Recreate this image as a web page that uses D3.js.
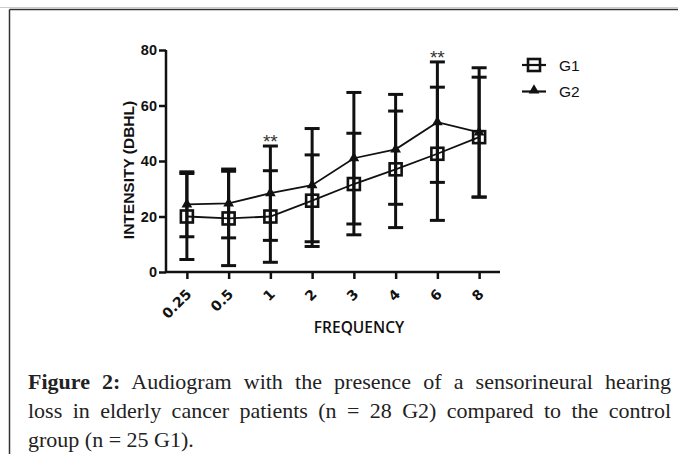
<!DOCTYPE html>
<html><head><meta charset="utf-8">
<script src="https://cdn.jsdelivr.net/npm/d3@7"></script>
<style>html,body{margin:0;padding:0;background:#fff;}svg{display:block;}</style>
</head><body>
<svg id="chart" width="678" height="454"></svg>
<script>
const frequencies = ["0.25","0.5","1","2","3","4","6","8"];
const g1Mean = [20, 19.3, 20, 25.7, 31.7, 37, 42.6, 48.6];
const g1SD   = [15.5, 17, 16.5, 16.5, 18.3, 21, 24, 21.6];
const g2Mean = [24.4, 24.7, 28.4, 31.3, 41, 44.2, 54, 50.3];
const g2SD   = [11.7, 12.4, 17, 20.4, 23.7, 19.8, 21.7, 23.3];
const significance = ["", "", "**", "", "", "", "**", ""];
const yTicks = [0, 20, 40, 60, 80];
const seriesNames = ["G1", "G2"];
const captionLines = [
  ["Figure 2:", " Audiogram with the presence of a sensorineural hearing"],
  ["", "loss in elderly cancer patients (n = 28 G2) compared to the control"],
  ["", "group (n = 25 G1)."]
];

const svg = d3.select("#chart");
const ink = "#111";

// frame
svg.append("line").attr("x1",0).attr("x2",678).attr("y1",7.5).attr("y2",7.5).attr("stroke","#ccc").attr("stroke-width",1);
svg.append("line").attr("x1",9.5).attr("x2",678).attr("y1",9.5).attr("y2",9.5).attr("stroke","#333").attr("stroke-width",1.5);
svg.append("line").attr("x1",9.5).attr("x2",9.5).attr("y1",9.5).attr("y2",454).attr("stroke","#333").attr("stroke-width",1.5);

const x = d3.scalePoint().domain(frequencies).range([166, 500]).padding(0.5);
const y = d3.scaleLinear().domain([0, 80]).range([272, 50]);

// axes
const yAxis = svg.append("g").attr("transform","translate(166,0)")
  .call(d3.axisLeft(y).tickValues(yTicks).tickSize(7).tickPadding(2));
const xAxis = svg.append("g").attr("transform","translate(0,272)")
  .call(d3.axisBottom(x).tickSize(7).tickSizeOuter(0));
[yAxis, xAxis].forEach(a => {
  a.select(".domain").attr("stroke", ink).attr("stroke-width", 2.5);
  a.selectAll(".tick line").attr("stroke", ink).attr("stroke-width", 2.5);
});
xAxis.select(".domain").attr("d", "M166,0H500");
yAxis.select(".domain").attr("d", "M0,50V273");
yAxis.selectAll(".tick text").attr("font-family","Liberation Sans, Arial, sans-serif")
  .attr("font-weight","bold").attr("font-size",14.5).attr("fill",ink);
xAxis.selectAll(".tick text").attr("font-family","DejaVu Sans, Verdana, sans-serif")
  .attr("font-weight","bold").attr("font-size",14).attr("fill",ink)
  .attr("text-anchor","end").attr("dy",0).attr("y",0)
  .attr("transform","translate(5,23) rotate(-45)");

// axis titles
svg.append("text").attr("transform","translate(134,170) rotate(-90)")
  .attr("text-anchor","middle").attr("font-family","Liberation Sans, Arial, sans-serif")
  .attr("font-weight","bold").attr("font-size",15.5).attr("fill",ink).text("INTENSITY (DBHL)");
svg.append("text").attr("x",359).attr("y",333).attr("text-anchor","middle")
  .attr("font-family","Open Sans, sans-serif").attr("font-weight",600)
  .attr("font-size",15.5).attr("fill",ink).text("FREQUENCY");

const series = [
  {mean: g1Mean, sd: g1SD},
  {mean: g2Mean, sd: g2SD}
];

// error bars
const capW = 15;
series.forEach(s => {
  const g = svg.append("g").attr("stroke", ink).attr("stroke-width", 3);
  frequencies.forEach((f, i) => {
    const cx = x(f), hi = y(s.mean[i] + s.sd[i]), lo = y(s.mean[i] - s.sd[i]);
    g.append("line").attr("x1",cx).attr("x2",cx).attr("y1",hi).attr("y2",lo);
    g.append("line").attr("x1",cx-capW/2).attr("x2",cx+capW/2).attr("y1",hi).attr("y2",hi);
    g.append("line").attr("x1",cx-capW/2).attr("x2",cx+capW/2).attr("y1",lo).attr("y2",lo);
  });
});

// lines
const line = d3.line().x((d,i) => x(frequencies[i])).y(d => y(d));
series.forEach(s => {
  svg.append("path").datum(s.mean).attr("d", line).attr("fill","none")
    .attr("stroke", ink).attr("stroke-width", 1.8);
});

// markers
const sq = 12;
function square(g, cx, cy) {
  g.append("rect").attr("x",cx-sq/2).attr("y",cy-sq/2).attr("width",sq).attr("height",sq)
    .attr("fill","none").attr("stroke",ink).attr("stroke-width",2.6);
}
const tri = d3.symbol().type(d3.symbolTriangle).size(50);
function triangle(g, cx, cy) {
  g.append("path").attr("d", tri()).attr("transform",`translate(${cx},${cy})`).attr("fill",ink);
}
const mk = svg.append("g");
g2Mean.forEach((v,i) => triangle(mk, x(frequencies[i]), y(v)));
g1Mean.forEach((v,i) => square(mk, x(frequencies[i]), y(v)));

// significance
significance.forEach((s, i) => {
  if (!s) return;
  const top = Math.max(g1Mean[i] + g1SD[i], g2Mean[i] + g2SD[i]);
  svg.append("text").attr("x", x(frequencies[i])).attr("y", y(top) + 2)
    .attr("text-anchor","middle").attr("font-family","Liberation Sans, Arial, sans-serif")
    .attr("font-size",19).attr("fill","#333").text(s);
});

// legend
const lg = svg.append("g");
seriesNames.forEach((name, i) => {
  const ly = 65 + i * 26.5;
  lg.append("line").attr("x1",522).attr("x2",546).attr("y1",ly).attr("y2",ly)
    .attr("stroke",ink).attr("stroke-width",2.2);
  if (i === 0) square(lg, 534, ly); else triangle(lg, 534, ly - 1);
  lg.append("text").attr("x",559).attr("y",ly + 5.5).attr("font-family","Liberation Sans, Arial, sans-serif")
    .attr("font-size",15.5).attr("fill",ink).text(name);
});

// caption (justified lines 1-2 via word spacing)
const capBase = [389, 418, 447];
const capX = 28, capWidth = 643;
captionLines.forEach((ln, i) => {
  const t = svg.append("text").attr("x",capX).attr("y",capBase[i])
    .attr("font-family","Liberation Serif, Times New Roman, serif").attr("font-size",22).attr("fill","#222");
  if (ln[0]) t.append("tspan").attr("font-weight","bold").text(ln[0]);
  t.append("tspan").text(ln[1]);
  if (i < 2) {
    const w = t.node().getComputedTextLength();
    const spaces = (ln[0] + ln[1]).split(" ").length - 1;
    if (w < capWidth) t.attr("word-spacing", (capWidth - w) / spaces);
    else t.attr("textLength", capWidth).attr("lengthAdjust", "spacingAndGlyphs");
  }
});
</script>
</body></html>
